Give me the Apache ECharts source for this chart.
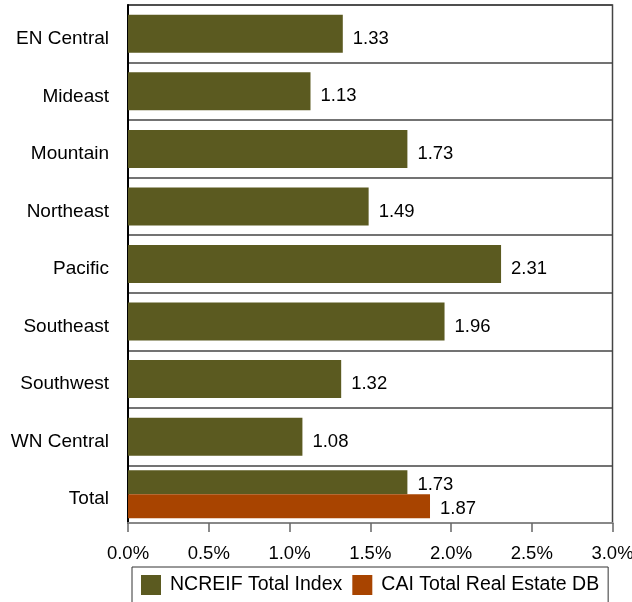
<!DOCTYPE html>
<html>
<head>
<meta charset="utf-8">
<script src="https://cdn.jsdelivr.net/npm/echarts@6/dist/echarts.min.js"></script>
<style>
  html, body { margin: 0; padding: 0; background: #fff; }
  #chart { width: 632px; height: 602px; }
</style>
</head>
<body>
<div id="chart"></div>
<script>
// Regions plus the overall total
const categories = ['EN Central', 'Mideast', 'Mountain', 'Northeast', 'Pacific',
                    'Southeast', 'Southwest', 'WN Central', 'Total'];
// NCREIF Total Index by region (%)
const regionValues = [1.33, 1.13, 1.73, 1.49, 2.31, 1.96, 1.32, 1.08];
// Totals for the two indices (%)
const ncreifTotal = 1.73;
const caiTotal = 1.87;
// Value axis ticks
const xTicks = [0, 0.5, 1.0, 1.5, 2.0, 2.5, 3.0];

const GREEN = '#5b5a20';
const ORANGE = '#a84400';
const FONT = 'Liberation Sans, Arial, sans-serif';

const nCat = categories.length;
const regionData = categories.map((c, i) => (i < regionValues.length ? regionValues[i] : '-'));
const totalNcreifData = categories.map((c, i) => (i === nCat - 1 ? ncreifTotal : '-'));
const totalCaiData = categories.map((c, i) => (i === nCat - 1 ? caiTotal : '-'));

function valueLabel(dy) {
  return {
    show: true,
    position: 'right',
    distance: 10,
    offset: [0, dy],
    color: '#000',
    fontFamily: FONT,
    fontSize: 18.5,
    formatter: p => p.value.toFixed(2)
  };
}

const chart = echarts.init(document.getElementById('chart'), null, { renderer: 'canvas' });

chart.setOption({
  animation: false,
  backgroundColor: '#fff',
  grid: {
    left: 128, right: 19.5, top: 5, bottom: 79,
    outerBoundsMode: 'none',
    show: true, borderColor: '#444', borderWidth: 1.5
  },
  xAxis: {
    type: 'value',
    min: xTicks[0],
    max: xTicks[xTicks.length - 1],
    interval: 0.5,
    axisLine: { show: true, lineStyle: { color: '#888', width: 2 } },
    axisTick: { show: true, length: 9, lineStyle: { color: '#666', width: 1.5 } },
    splitLine: { show: false },
    axisLabel: {
      color: '#000', fontFamily: FONT, fontSize: 18.5, margin: 21,
      formatter: v => v.toFixed(1) + '%'
    }
  },
  yAxis: [
    {
      type: 'category',
      data: categories,
      inverse: true,
      axisLine: { show: true, lineStyle: { color: '#000', width: 2 } },
      axisTick: { show: false },
      splitLine: { show: true, lineStyle: { color: '#444', width: 1.5 } },
      axisLabel: {
        margin: 19,
        formatter: v => '{c|' + v + '}',
        rich: {
          c: { color: '#000', fontFamily: FONT, fontSize: 19, padding: [10, 0, 0, 0] }
        }
      }
    },
    {
      type: 'category',
      data: categories,
      inverse: true,
      show: false
    }
  ],
  legend: {
    left: 132,
    top: 567,
    padding: [8, 9, 8, 9],
    borderColor: '#333',
    borderWidth: 1,
    itemWidth: 20,
    itemHeight: 20,
    itemGap: 10,
    icon: 'rect',
    textStyle: { color: '#000', fontFamily: FONT, fontSize: 19.5, padding: [0, 0, 0, 4] },
    data: ['NCREIF Total Index', 'CAI Total Real Estate DB']
  },
  series: [
    {
      name: 'NCREIF Total Index',
      type: 'bar',
      yAxisIndex: 0,
      data: regionData,
      barWidth: 38,
      itemStyle: { color: GREEN },
      label: valueLabel(5)
    },
    {
      name: 'NCREIF Total Index',
      type: 'bar',
      yAxisIndex: 1,
      data: totalNcreifData,
      barWidth: 24,
      barGap: 0,
      itemStyle: { color: GREEN },
      label: valueLabel(3)
    },
    {
      name: 'CAI Total Real Estate DB',
      type: 'bar',
      yAxisIndex: 1,
      data: totalCaiData,
      barWidth: 24,
      barGap: 0,
      itemStyle: { color: ORANGE },
      label: valueLabel(3)
    }
  ]
});
</script>
</body>
</html>
